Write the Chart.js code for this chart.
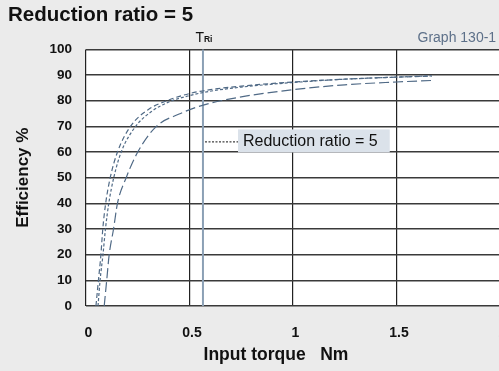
<!DOCTYPE html>
<html><head><meta charset="utf-8">
<script src="https://cdn.jsdelivr.net/npm/chart.js@4.4.1/dist/chart.umd.min.js"></script>
<style>
html,body{margin:0;padding:0;overflow:hidden;background:#ebebeb;width:499px;height:371px}
#wrap{position:relative;width:506px;height:371px}
</style></head>
<body><div id="wrap"><canvas id="c"></canvas></div>
<script>
const chartTitle = 'Reduction ratio = 5';
const graphLabel = 'Graph 130-1';
const xTitle = 'Input torque   Nm';
const yTitle = 'Efficiency %';
const legendLabel = 'Reduction ratio = 5';
const tRiLabel = ['T', 'Ri'];
const tRiValue = 0.565;
const xTicks = [0, 0.5, 1, 1.5, 2];
const yTicks = [0, 10, 20, 30, 40, 50, 60, 70, 80, 90, 100];

const curveAx = [0.048, 0.060, 0.072, 0.081, 0.095, 0.117, 0.152, 0.215, 0.30, 0.40, 0.50, 0.60, 0.75, 1.00, 1.25, 1.50, 1.67];
const curveAy = [0, 10, 20, 30, 40, 50, 60, 70, 76.5, 80.3, 82.8, 84.3, 85.7, 87.3, 88.4, 89.2, 89.6];
const curveBx = [0.058, 0.068, 0.082, 0.094, 0.110, 0.134, 0.170, 0.240, 0.32, 0.40, 0.50, 0.60, 0.75, 1.00, 1.25, 1.50, 1.67];
const curveBy = [0, 10, 20, 30, 40, 50, 60, 70, 76, 79.5, 82, 83.7, 85.3, 87.1, 88.4, 89.2, 89.7];
const curveCx = [0.088, 0.100, 0.112, 0.133, 0.152, 0.194, 0.250, 0.340, 0.45, 0.55, 0.75, 1.00, 1.25, 1.50, 1.67];
const curveCy = [0, 10, 20, 30, 40, 50, 60, 70, 74.8, 77.9, 81.5, 84.3, 86.2, 87.3, 87.9];

const FONT = "'Liberation Sans', Arial, Helvetica, sans-serif";
const CURVE = '#506a86';
const pts = (xs, ys) => xs.map((x, i) => ({x, y: ys[i]}));

const decor = {
  id: 'decor',
  beforeDraw(chart) {
    const {ctx, chartArea: a} = chart;
    ctx.save();
    ctx.fillStyle = '#ebebeb';
    ctx.fillRect(0, 0, chart.width, chart.height);
    ctx.fillStyle = '#ffffff';
    ctx.fillRect(a.left, a.top, a.right - a.left, a.bottom - a.top);
    ctx.restore();
  },
  beforeDatasetsDraw(chart) {
    const {ctx, chartArea: a, scales: {x}} = chart;
    const px = x.getPixelForValue(tRiValue);
    ctx.save();
    ctx.strokeStyle = '#8ba0b5';
    ctx.lineWidth = 2;
    ctx.beginPath(); ctx.moveTo(px, a.top); ctx.lineTo(px, a.bottom); ctx.stroke();
    ctx.fillStyle = '#111';
    ctx.textBaseline = 'alphabetic';
    ctx.font = `14px ${FONT}`;
    const w1 = ctx.measureText(tRiLabel[0]).width;
    ctx.font = `bold 8.5px ${FONT}`;
    const w2 = ctx.measureText(tRiLabel[1]).width;
    const sx = px + 1 - (w1 + w2) / 2;
    ctx.font = `14px ${FONT}`;
    ctx.fillText(tRiLabel[0], sx, a.top - 7);
    ctx.font = `bold 8.5px ${FONT}`;
    ctx.fillText(tRiLabel[1], sx + w1, a.top - 7);
    ctx.restore();
  },
  afterDraw(chart) {
    const {ctx, chartArea: a} = chart;
    ctx.save();
    const lx = a.left + 119, ly = a.top + 92;
    ctx.font = `16px ${FONT}`;
    const tw = ctx.measureText(legendLabel).width;
    const bx = lx + 33;
    ctx.fillStyle = '#dbe2ea';
    ctx.fillRect(bx, ly - 12, tw + 17, 23);
    ctx.strokeStyle = '#111';
    ctx.lineWidth = 1;
    ctx.setLineDash([2, 1.5]);
    ctx.beginPath(); ctx.moveTo(lx, ly + 0.5); ctx.lineTo(bx, ly + 0.5); ctx.stroke();
    ctx.fillStyle = '#111';
    ctx.textBaseline = 'middle';
    ctx.fillText(legendLabel, bx + 5, ly + 0.5);
    ctx.restore();
  }
};

new Chart(document.getElementById('c'), {
  type: 'line',
  data: {
    datasets: [
      {label: 'A', data: pts(curveAx, curveAy), borderColor: CURVE, borderWidth: 1.2, borderDash: [5, 3], pointRadius: 0, cubicInterpolationMode: 'monotone'},
      {label: legendLabel, data: pts(curveBx, curveBy), borderColor: CURVE, borderWidth: 1.2, borderDash: [3, 2], pointRadius: 0, cubicInterpolationMode: 'monotone'},
      {label: 'C', data: pts(curveCx, curveCy), borderColor: CURVE, borderWidth: 1.2, borderDash: [10, 4], pointRadius: 0, cubicInterpolationMode: 'monotone'}
    ]
  },
  options: {
    responsive: true, maintainAspectRatio: false, animation: false,
    layout: {padding: {left: 8, right: 6, top: 0, bottom: 0}},
    plugins: {
      legend: {display: false}, tooltip: {enabled: false},
      title: {display: true, text: chartTitle, align: 'start', color: '#111', font: {family: FONT, size: 20.5, weight: 'bold'}, padding: {top: 3, bottom: 0}},
      subtitle: {display: true, text: graphLabel + ' ', align: 'end', color: '#5d7089', font: {family: FONT, size: 14}, padding: {top: 2, bottom: 3}}
    },
    scales: {
      x: {
        type: 'linear', min: 0, max: 2,
        afterBuildTicks: s => { s.ticks = xTicks.map(v => ({value: v})); },
        afterFit: s => { s.height = 65; s.paddingLeft = 0; s.paddingRight = 0; },
        grid: {color: '#222', lineWidth: 1.2, drawTicks: false},
        border: {display: false},
        ticks: {padding: 19, labelOffset: 2.5, color: '#111', font: {family: FONT, size: 14, weight: 'bold'}, callback: v => String(v)},
        title: {display: true, text: xTitle + '       ', color: '#111', font: {family: FONT, size: 17.5, weight: 'bold'}, padding: {top: 0, bottom: 5}}
      },
      y: {
        type: 'linear', min: 0, max: 100,
        afterBuildTicks: s => { s.ticks = yTicks.map(v => ({value: v})); },
        afterFit: s => { s.width = 78; },
        grid: {color: '#3a3a3a', lineWidth: 1.5, drawTicks: false},
        border: {display: false},
        ticks: {padding: 14, color: '#111', font: {family: FONT, size: 13.5, weight: 'bold'}},
        title: {display: true, text: yTitle, color: '#111', font: {family: FONT, size: 17, weight: 'bold'}, padding: {top: 5, bottom: 0}}
      }
    }
  },
  plugins: [decor]
});
</script>
</body></html>
